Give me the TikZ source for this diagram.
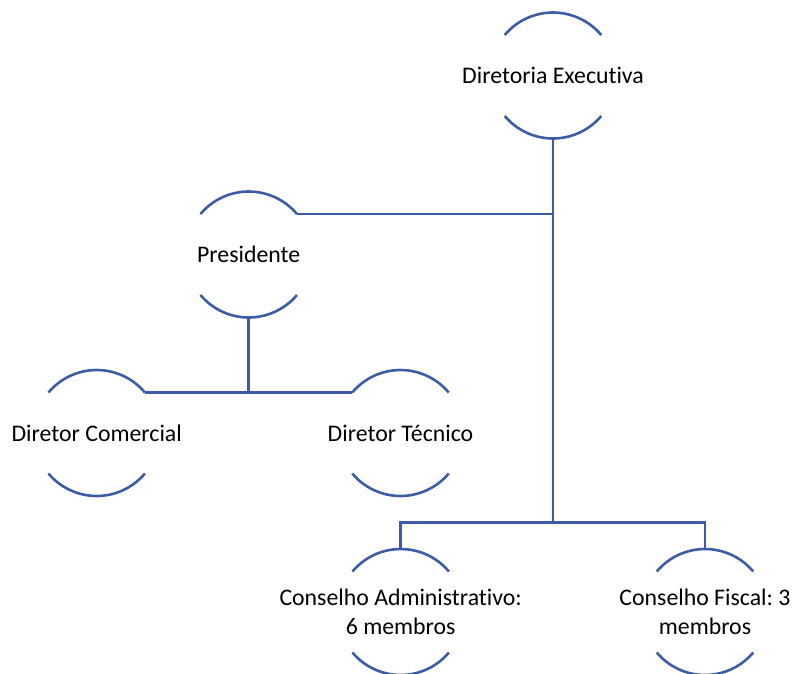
\documentclass[tikz,border=0pt]{standalone}
\usepackage{fontspec}
\setmainfont[Ligatures=NoCommon]{Carlito}
\definecolor{orgblue}{HTML}{3C5DA5}
\begin{document}
\frenchspacing
\begin{tikzpicture}[x=1pt,y=1pt,
  circ/.style={circle, minimum size=126pt, inner sep=0pt, outer sep=0pt},
  lbl/.style={inner sep=0pt, align=center, font=\fontsize{23.8}{29}\selectfont},
  conn/.style={draw=orgblue, line width=2.6pt},
  arcline/.style={draw=orgblue, line width=2.6pt}]
\useasboundingbox (0,0) rectangle (792,-673);
% circles (invisible) and labels
\node[circ] (de) at (553,-75.5) {};
\node[circ] (pr) at (248.7,-254.5) {};
\node[circ] (dc) at (96.7,-433) {};
\node[circ] (dt) at (400.5,-433) {};
\node[circ] (ca) at (400.7,-612) {};
\node[circ] (cf) at (705,-612) {};
\node[lbl] (de-t) at (de) {Diretoria Executiva};
\node[lbl] (pr-t) at (pr) {Presidente};
\node[lbl] (dc-t) at (dc) {Diretor Comercial};
\node[lbl] (dt-t) at (dt) {Diretor Técnico};
\node[lbl] (ca-t) at ([yshift=0.5pt]ca) {Conselho Administrativo:\\6 membros};
\node[lbl] (cf-t) at ([yshift=0.5pt]cf) {Conselho Fiscal: 3\\membros};
% arcs
\foreach \n in {de,pr,dc,dt,ca,cf}{
  \draw[arcline] (\n.140) arc[start angle=140, end angle=40, radius=63pt];
  \draw[arcline] (\n.220) arc[start angle=220, end angle=320, radius=63pt];
}
% connectors
\coordinate (j1) at ([yshift=-384pt]de.south);
\draw[conn] (de.south) -- (j1);
\draw[conn] (ca.north) -- (ca.north |- j1) -- (cf.north |- j1) -- (cf.north);
\draw[conn] (pr.40) -- (pr.40 -| de.south);
\draw[conn] (pr.south) -- (pr.south |- dc.40);
\draw[conn] (dc.40) -- (dt.140);
\end{tikzpicture}
\end{document}
